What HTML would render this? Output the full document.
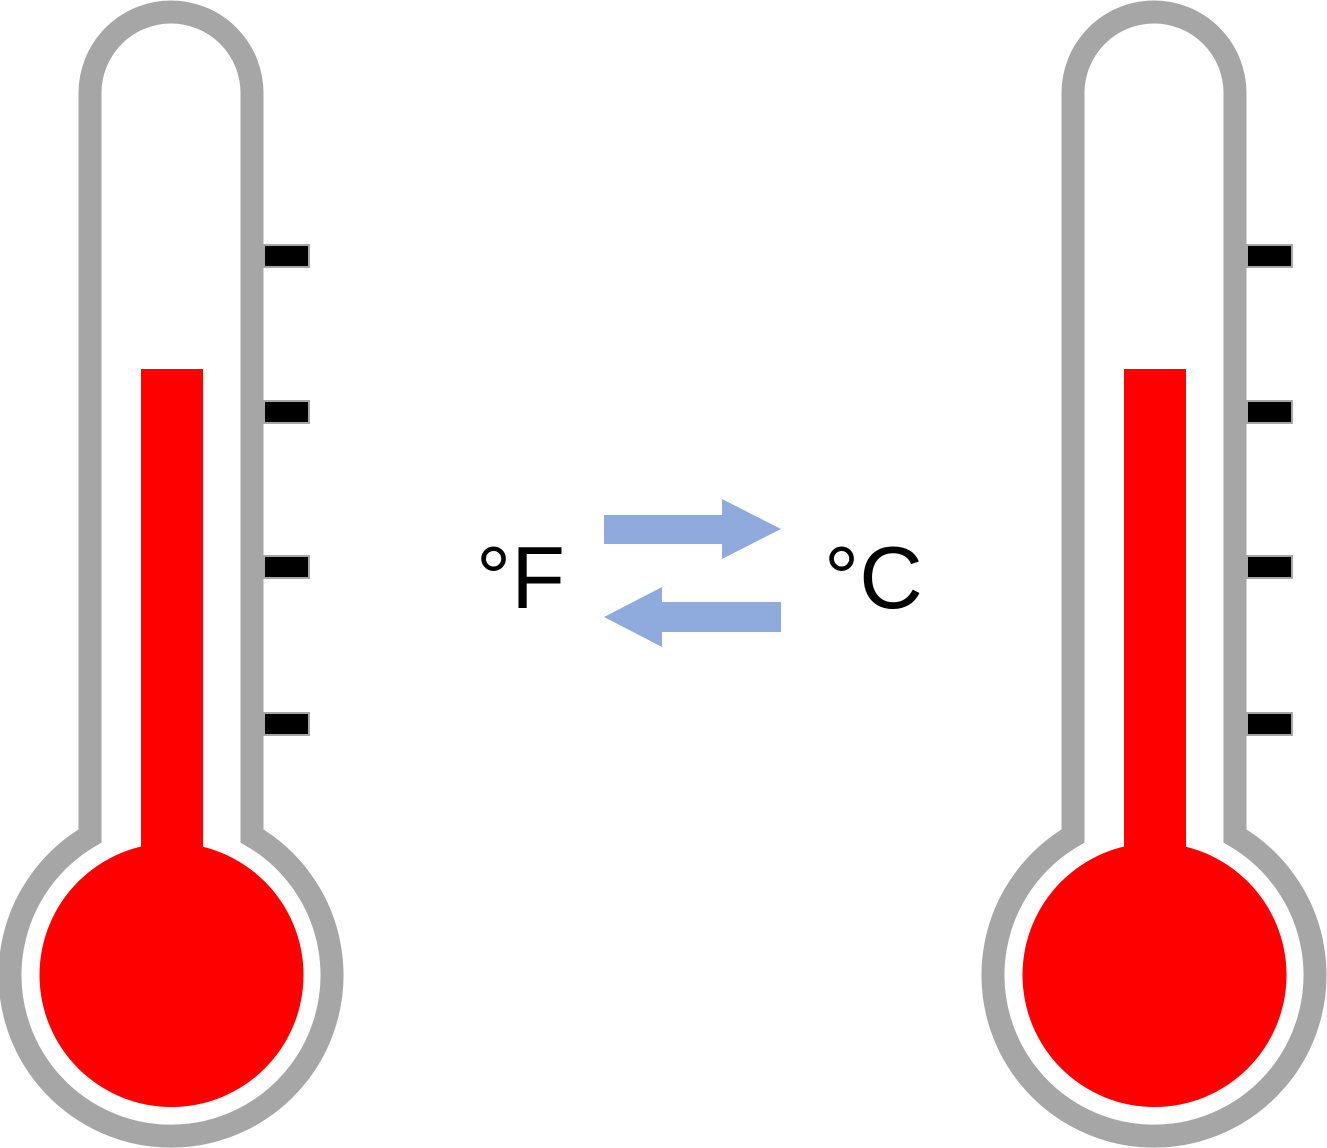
<!DOCTYPE html>
<html><head><meta charset="utf-8"><style>html,body{margin:0;padding:0;background:#fff}svg{display:block}</style></head>
<body>
<svg width="1327" height="1148" viewBox="0 0 1327 1148">
<defs>
<g id="thermo">
  <path d="M90,836 L90,93 A81,81 0 0 1 252,93 L252,836 A161,161 0 1 1 90,836 Z" fill="#fff" stroke="#a6a6a6" stroke-width="23"/>
  <rect x="141" y="369" width="62" height="490" fill="#ff0000"/>
  <path d="M120,854 L141,847 L203,847 L222,854 Z" fill="#ff0000"/>
  <circle cx="171.5" cy="975" r="132" fill="#ff0000"/>
  <g fill="#000" stroke="#a6a6a6" stroke-width="2">
    <rect x="264" y="245" width="45" height="22"/>
    <rect x="264" y="401" width="45" height="22"/>
    <rect x="264" y="556" width="45" height="22"/>
    <rect x="264" y="713" width="45" height="22"/>
  </g>
</g>
</defs>
<use href="#thermo"/>
<use href="#thermo" x="983"/>
<text x="476" y="608" font-family="Liberation Sans, sans-serif" font-size="88" fill="#000">°F</text>
<text x="824" y="608" font-family="Liberation Sans, sans-serif" font-size="88" fill="#000">°C</text>
<polygon points="604,515 722,515 722,499 781,529 722,559 722,544 604,544" fill="#8faadc"/>
<polygon points="781,602 662,602 662,587 604,617 662,647 662,632 781,632" fill="#8faadc"/>
</svg>
</body></html>
